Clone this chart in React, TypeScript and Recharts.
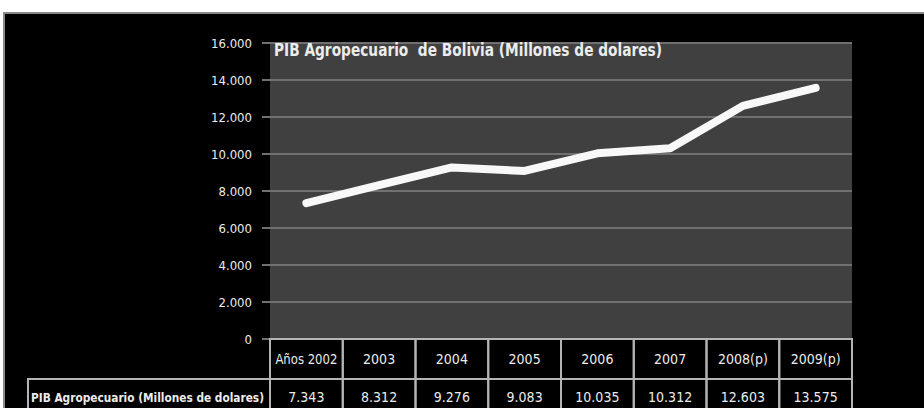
import { CartesianGrid, Line, LineChart, XAxis, YAxis } from 'recharts';

// PIB Agropecuario de Bolivia, millones de dolares
const years = ['Años 2002', '2003', '2004', '2005', '2006', '2007', '2008(p)', '2009(p)'];
const pib = [7343, 8312, 9276, 9083, 10035, 10312, 12603, 13575];
const yTicks = [0, 2000, 4000, 6000, 8000, 10000, 12000, 14000, 16000];
const title = 'PIB Agropecuario  de Bolivia (Millones de dolares)';
const rowLabel = 'PIB Agropecuario (Millones de dolares)';

const data = years.map((year, i) => ({ year, pib: pib[i] }));

const W = 924;
const H = 408;
const PLOT_LEFT = 270;
const PLOT_RIGHT = 852;
const PLOT_TOP = 43;
const PLOT_BOTTOM = 339;
const BAND = (PLOT_RIGHT - PLOT_LEFT) / years.length;
const FONT = "'DejaVu Sans Condensed', 'Liberation Sans Narrow', sans-serif";
const BORDER = '#b4b4b4';
const TEXT = '#ececec';

const fmt = (v: number) => String(v).replace(/\B(?=(\d{3})+(?!\d))/g, '.');

const TableTick = (props: any) => {
  const { x, payload } = props;
  const i = payload.index;
  const left = x - BAND / 2;
  // first header cell is wider text, squeeze it to fit the cell
  const squeeze = i === 0 ? { textLength: 62, lengthAdjust: 'spacingAndGlyphs' } : {};
  return (
    <g>
      {i === 0 && (
        <g>
          <rect x={28} y={379} width={left - 28} height={40} fill="none" stroke={BORDER} strokeWidth={2} />
          <text
            x={31}
            y={402}
            fill={TEXT}
            fontSize={13}
            fontFamily={FONT}
            fontWeight="bold"
            textLength={233}
            lengthAdjust="spacingAndGlyphs"
          >
            {rowLabel}
          </text>
        </g>
      )}
      <rect x={left} y={PLOT_BOTTOM} width={BAND} height={40} fill="none" stroke={BORDER} strokeWidth={2} />
      <rect x={left} y={379} width={BAND} height={40} fill="none" stroke={BORDER} strokeWidth={2} />
      <text x={x} y={364} textAnchor="middle" fill={TEXT} fontSize={14} fontFamily={FONT} {...squeeze}>
        {payload.value}
      </text>
      <text x={x} y={402} textAnchor="middle" fill={TEXT} fontSize={14} fontFamily={FONT}>
        {fmt(pib[i])}
      </text>
    </g>
  );
};

const App = () => (
  <div style={{ position: 'absolute', left: 0, top: 0, width: W, height: H, background: '#fff', overflow: 'hidden' }}>
    <div
      style={{
        position: 'absolute',
        left: 3,
        top: 12,
        right: 0,
        bottom: 0,
        background: '#000',
        borderTop: '2px solid #8a8a8a',
        borderLeft: '2px solid #8a8a8a',
      }}
    />
    <div style={{ position: 'absolute', left: 0, top: 0 }}>
      <LineChart width={W} height={H} data={data} margin={{ top: PLOT_TOP, right: W - PLOT_RIGHT, bottom: 0, left: 0 }}>
        <CartesianGrid vertical={false} fill="#404040" stroke="#707070" strokeWidth={2} />
        <XAxis
          dataKey="year"
          height={H - PLOT_BOTTOM}
          padding={{ left: BAND / 2, right: BAND / 2 }}
          axisLine={false}
          tickLine={false}
          interval={0}
          tick={<TableTick />}
        />
        <YAxis
          width={PLOT_LEFT}
          domain={[0, 16000]}
          ticks={yTicks}
          tickFormatter={fmt}
          axisLine={false}
          tickLine={{ stroke: '#707070', strokeWidth: 2 }}
          tickSize={8}
          tickMargin={10}
          tick={{ fill: TEXT, fontSize: 13, fontFamily: FONT }}
        />
        <Line
          type="linear"
          dataKey="pib"
          stroke="#f8f8f8"
          strokeWidth={8}
          strokeLinecap="round"
          strokeLinejoin="round"
          dot={false}
          isAnimationActive={false}
        />
      </LineChart>
    </div>
    <svg style={{ position: 'absolute', left: 0, top: 0 }} width={W} height={H}>
      <text
        x={274}
        y={56}
        fill={TEXT}
        fontSize={17}
        fontWeight="bold"
        fontFamily={FONT}
        textLength={388}
        lengthAdjust="spacingAndGlyphs"
        xmlSpace="preserve"
        style={{ whiteSpace: 'pre' }}
      >
        {title}
      </text>
    </svg>
  </div>
);

export default App;
